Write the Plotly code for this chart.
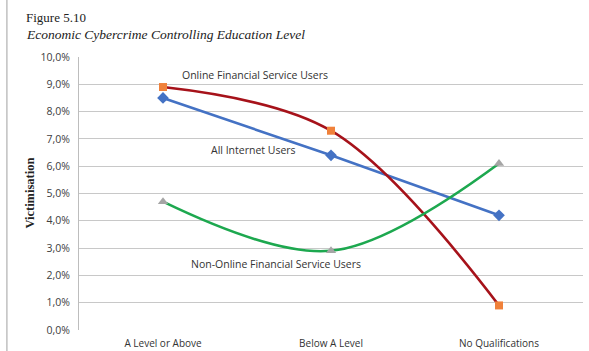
import plotly.graph_objects as go

categories = ["A Level or Above", "Below A Level", "No Qualifications"]
all_internet = [0.085, 0.064, 0.042]
online_fin = [0.089, 0.073, 0.009]
non_online_fin = [0.047, 0.029, 0.061]
y_ticks = [i / 100 for i in range(0, 11)]

x_idx = list(range(len(categories)))

fig = go.Figure()
fig.add_trace(go.Scatter(
    x=x_idx, y=all_internet, mode="lines+markers", name="All Internet Users",
    line=dict(color="#4472C4", width=2.6, shape="spline", smoothing=0.6),
    marker=dict(symbol="diamond", size=9, color="#4472C4"),
))
fig.add_trace(go.Scatter(
    x=x_idx, y=online_fin, mode="lines+markers", name="Online Financial Service Users",
    line=dict(color="#A6121A", width=2.6, shape="spline", smoothing=1.0),
    marker=dict(symbol="square", size=8, color="#F0813A"),
))
fig.add_trace(go.Scatter(
    x=x_idx, y=non_online_fin, mode="lines+markers", name="Non-Online Financial Service Users",
    line=dict(color="#1DA84F", width=2.6, shape="spline", smoothing=1.0),
    marker=dict(symbol="triangle-up", size=9, color="#A5A5A5"),
))

label_font = dict(family="Open Sans, Liberation Sans, sans-serif", size=10.5, color="#333333")
series_labels = [
    ("Online Financial Service Users", 0.548, 0.0934),
    ("All Internet Users", 0.536, 0.0659),
    ("Non-Online Financial Service Users", 0.673, 0.0242),
]
annotations = [
    dict(text=t, x=x, y=y, xref="x", yref="y", showarrow=False, font=label_font)
    for t, x, y in series_labels
]
annotations += [
    dict(text="Figure 5.10", x=-0.11, y=1.145, xref="paper", yref="paper",
         xanchor="left", yanchor="middle", showarrow=False,
         font=dict(family="Liberation Serif, serif", size=13, color="#222222")),
    dict(text="<i>Economic Cybercrime Controlling Education Level</i>", x=-0.11, y=1.081,
         xref="paper", yref="paper", xanchor="left", yanchor="middle", showarrow=False,
         font=dict(family="Liberation Serif, serif", size=13.5, color="#222222")),
    dict(text="<b>Victimisation</b>", x=-0.099, y=0.5, xref="paper", yref="paper",
         xanchor="center", yanchor="middle", textangle=-90, showarrow=False,
         font=dict(family="Liberation Serif, serif", size=12.5, color="#222222")),
]

fig.update_layout(
    width=589, height=351,
    margin=dict(l=79, r=6, t=57, b=21, autoexpand=False),
    paper_bgcolor="white", plot_bgcolor="white",
    showlegend=False,
    separators=", ",
    annotations=annotations,
    shapes=[dict(type="line", xref="paper", yref="paper",
                 x0=-0.143, x1=-0.143, y0=-0.08, y1=1.21,
                 line=dict(color="#A0A0A0", width=1))],
)
fig.update_xaxes(
    range=[-0.5, 2.5], tickvals=x_idx, ticktext=categories,
    showgrid=False, zeroline=False, showline=False,
    ticks="", ticklabelstandoff=6,
    tickfont=dict(family="Open Sans, Liberation Sans, sans-serif", size=10, color="#333333"),
)
fig.update_yaxes(
    range=[0, 0.1], tickvals=y_ticks, tickformat=".1%",
    showgrid=True, gridcolor="#C8C8C8", gridwidth=1,
    zeroline=False, showline=True, linecolor="#BDBDBD", linewidth=1,
    ticks="", ticklabelstandoff=6,
    tickfont=dict(family="Open Sans, Liberation Sans, sans-serif", size=10.5, color="#404040"),
)

fig.write_html("out.html")
